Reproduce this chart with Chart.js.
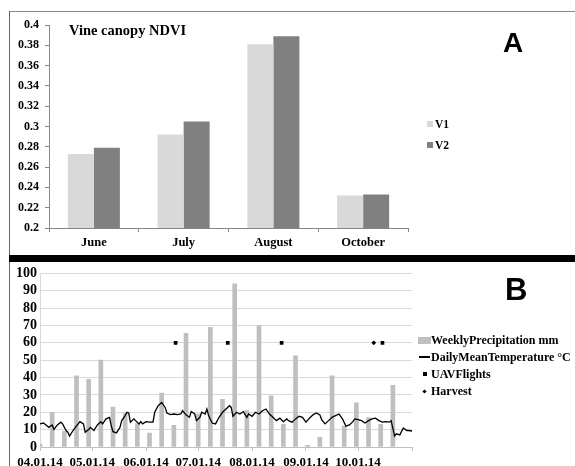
<!DOCTYPE html>
<html>
<head>
<meta charset="utf-8">
<title>Vine canopy NDVI and weather 2014</title>
<script src="https://cdn.jsdelivr.net/npm/chart.js@4"></script>
<style>
	html, body { margin: 0; padding: 0; background: #fff; }
	body { width: 575px; height: 466px; position: relative; overflow: hidden; font-family: "Liberation Serif", "Times New Roman", serif; }
	canvas { position: absolute; left: 0; }
	#chartA { top: 0; }
	#chartB { top: 262px; }
	.rule { position: absolute; }
	.letter { position: absolute; font-family: "Liberation Sans", Arial, sans-serif; font-weight: bold; line-height: 1; color: #000; }
	.title { position: absolute; left: 69px; top: 23px; font-size: 14.5px; font-weight: bold; line-height: 1; }
	.legend { position: absolute; font-weight: bold; color: #000; }
	.legend .item { display: flex; align-items: center; white-space: nowrap; }
	.legend .slot { display: flex; align-items: center; justify-content: center; }
</style>
</head>
<body>
<div class="rule" style="left:9px;top:11px;width:566px;height:1px;background:#8a8a8a"></div>
<div class="rule" style="left:9px;top:11px;width:1px;height:455px;background:#666"></div>
<div class="rule" style="left:9px;top:255px;width:566px;height:7px;background:#000"></div>

<canvas id="chartA" width="575" height="255"></canvas>
<canvas id="chartB" width="575" height="215"></canvas>

<div class="title">Vine canopy NDVI</div>
<div class="letter" style="left:503px;top:29px;font-size:28px">A</div>
<div class="letter" style="left:505px;top:274px;font-size:31px">B</div>
<div class="legend" id="legendA" style="left:424px;top:114px;font-size:11.5px;line-height:20.5px"></div>
<div class="legend" id="legendB" style="left:418px;top:331.5px;font-size:12px;line-height:17px"></div>

<script>
// panel A: NDVI per month
const ndviMonths = ["June", "July", "August", "October"];
const ndviV1 = [0.273, 0.292, 0.381, 0.232];
const ndviV2 = [0.279, 0.305, 0.389, 0.233];

// panel B: days counted from 1 April 2014
const monthStartDays = [0, 30, 61, 91, 122, 153, 183, 214];
const monthLabels = ["04.01.14", "05.01.14", "06.01.14", "07.01.14", "08.01.14", "09.01.14", "10.01.14", ""];

const precipDays = [0, 7, 14, 21, 28, 35, 42, 49, 56, 63, 70, 77, 84, 91, 98,
	105, 112, 119, 126, 133, 140, 147, 154, 161, 168, 175, 182, 189, 196, 203];
const precipMm = [1.5, 20, 9, 41, 39, 50, 23, 19.5, 13.5, 8, 31, 12.5, 65.5, 19, 69,
	27.5, 94, 21, 70, 29.5, 13, 52.5, 1, 5.5, 41, 12, 25.5, 17, 13, 35.5];

const tempDays = [0, 2, 4, 5, 7, 8, 10, 12, 13, 15, 16, 17, 19, 21, 23, 25, 26, 28, 29, 31,
	33, 35, 36, 38, 40, 41, 42, 44, 46, 47, 49, 50, 51, 52, 54, 55, 57, 58, 59, 61,
	63, 65, 66, 68, 70, 72, 73, 75, 77, 79, 81, 82, 84, 86, 87, 89, 90, 92, 93, 95,
	96, 97, 99, 101, 103, 105, 107, 109, 110, 111, 113, 115, 117, 119, 120, 122, 124, 126, 128, 130,
	132, 134, 136, 138, 140, 142, 143, 145, 147, 149, 151, 153, 155, 157, 159, 161, 162, 164, 166, 168,
	170, 172, 174, 176, 178, 180, 181, 183, 185, 187, 189, 191, 193, 195, 197, 199, 201, 202, 204, 205,
	207, 209, 211, 212, 214];
const tempC = [13.3, 13.8, 12.2, 11.3, 12.7, 10.1, 12.7, 14.3, 13.3, 9.5, 8.5, 6.3, 9.5, 12.2, 14.6, 13.3, 8.5, 10.1, 11.3, 9.5,
	12.7, 14.6, 13.3, 16.2, 17.1, 12.2, 8.8, 8.1, 11.3, 15.2, 18.1, 20, 19.6, 14.3, 16.2, 15.2, 13.3, 14.6, 13.3, 14.6,
	14.3, 14.3, 20, 23.8, 25.7, 22.8, 19.6, 18.7, 19, 18.7, 19, 20.9, 18.5, 17.1, 20.4, 19, 15.2, 17.1, 20, 19,
	21.9, 18.1, 13.8, 13.3, 17.1, 20, 21.9, 23.8, 22.8, 17.7, 20, 19, 20.4, 17.1, 19, 17.7, 20, 19, 20.9, 21.9,
	19, 17.1, 15.2, 16.6, 14.6, 16.2, 15.2, 14.3, 16.2, 17.7, 17.1, 14.3, 16.6, 18.5, 19.6, 18.5, 15.8, 13.3, 15.2, 17.1,
	18.1, 19, 16.2, 12, 12.7, 14.6, 16.2, 15.8, 15.2, 13.8, 15.2, 16.2, 16.6, 15.2, 14.3, 14.6, 14.3, 15.2, 6.3, 7.6,
	7, 10.9, 9.5, 9.5, 9.2];

const uavFlightDays = [78, 108, 139, 197];
const harvestDays = [192];
const markerLevel = 60;

const SERIF = '"Liberation Serif", "Times New Roman", serif';
const boldFont = (size) => ({ family: SERIF, weight: "bold", size: size });

const chartA = new Chart(document.getElementById("chartA"), {
	type: "bar",
	data: {
		labels: ndviMonths,
		datasets: [
			{ label: "V1", data: ndviV1, backgroundColor: "#d9d9d9", categoryPercentage: 0.58, barPercentage: 1 },
			{ label: "V2", data: ndviV2, backgroundColor: "#808080", categoryPercentage: 0.58, barPercentage: 1 },
		],
	},
	options: {
		responsive: false,
		animation: false,
		layout: { padding: { top: 25, right: 167, bottom: 0, left: 0 } },
		plugins: { legend: { display: false }, tooltip: { enabled: false } },
		scales: {
			x: {
				ticks: { font: boldFont(12.5), color: "#000", padding: 3 },
				grid: { drawOnChartArea: false, tickLength: 4, color: "#878787" },
				border: { color: "#878787" },
				afterFit: (scale) => { scale.height = 27; },
			},
			y: {
				min: 0.2,
				max: 0.4,
				ticks: {
					stepSize: 0.02,
					autoSkip: false,
					font: boldFont(12),
					color: "#000",
					padding: 6,
					callback: (v) => String(+v.toFixed(2)),
				},
				grid: { drawOnChartArea: false, tickLength: 4, color: "#878787" },
				border: { color: "#878787" },
				afterFit: (scale) => { scale.width = 49; },
			},
		},
	},
});

const chartB = new Chart(document.getElementById("chartB"), {
	data: {
		datasets: [
			{
				type: "bar",
				label: "WeeklyPrecipitation mm",
				data: precipDays.map((d, i) => ({ x: d, y: precipMm[i] })),
				backgroundColor: "#bfbfbf",
				barThickness: 4,
				order: 3,
			},
			{
				type: "line",
				label: "DailyMeanTemperature °C",
				data: tempDays.map((d, i) => ({ x: d, y: tempC[i] })),
				borderColor: "#000",
				borderWidth: 1.3,
				pointRadius: 0,
				tension: 0,
				order: 2,
			},
			{
				type: "scatter",
				label: "UAVFlights",
				data: uavFlightDays.map((d) => ({ x: d, y: markerLevel })),
				pointStyle: "rect",
				pointRadius: 2.6,
				backgroundColor: "#000",
				borderColor: "#000",
				borderWidth: 0,
				order: 1,
			},
			{
				type: "scatter",
				label: "Harvest",
				data: harvestDays.map((d) => ({ x: d, y: markerLevel })),
				pointStyle: "rectRot",
				pointRadius: 2.4,
				backgroundColor: "#000",
				borderColor: "#000",
				borderWidth: 0,
				order: 1,
			},
		],
	},
	options: {
		responsive: false,
		animation: false,
		layout: { padding: { top: 9, right: 163, bottom: 0, left: 0 } },
		plugins: { legend: { display: false }, tooltip: { enabled: false } },
		scales: {
			x: {
				type: "linear",
				min: 0,
				max: 214,
				offset: false,
				afterBuildTicks: (scale) => {
					scale.ticks = monthStartDays.map((v) => ({ value: v }));
				},
				ticks: {
					autoSkip: false,
					maxRotation: 0,
					font: boldFont(13),
					color: "#000",
					padding: 4,
					callback: (v, i) => monthLabels[i],
				},
				grid: { drawOnChartArea: false, offset: false, tickLength: 4, color: "#bfbfbf" },
				border: { color: "#bfbfbf" },
				afterFit: (scale) => { scale.height = 30; },
			},
			y: {
				min: 0,
				max: 100,
				ticks: { stepSize: 10, autoSkip: false, font: boldFont(14), color: "#000", padding: 3 },
				grid: { color: "#d9d9d9", drawTicks: false },
				border: { color: "#d9d9d9" },
				afterFit: (scale) => { scale.width = 40; },
			},
		},
	},
});

// html legends built from the datasets
function symbolFor(ds) {
	const s = document.createElement("span");
	s.style.display = "inline-block";
	if (ds.type === "bar") {
		s.style.width = "13px"; s.style.height = "7px"; s.style.background = ds.backgroundColor;
	} else if (ds.type === "line") {
		s.style.width = "11px"; s.style.height = "1.5px"; s.style.background = ds.borderColor;
	} else if (ds.pointStyle === "rectRot") {
		s.style.width = "3px"; s.style.height = "3px"; s.style.background = ds.backgroundColor;
		s.style.transform = "rotate(45deg)";
	} else {
		s.style.width = "4px"; s.style.height = "4px"; s.style.background = ds.backgroundColor;
	}
	return s;
}

function buildLegend(el, datasets, slotWidth, makeSymbol) {
	for (const ds of datasets) {
		const row = document.createElement("div");
		row.className = "item";
		const slot = document.createElement("span");
		slot.className = "slot";
		slot.style.width = slotWidth + "px";
		slot.appendChild(makeSymbol(ds));
		const text = document.createElement("span");
		text.textContent = ds.label;
		row.appendChild(slot);
		row.appendChild(text);
		el.appendChild(row);
	}
}

buildLegend(document.getElementById("legendA"), chartA.data.datasets, 11, (ds) => {
	const s = document.createElement("span");
	s.style.display = "inline-block";
	s.style.width = "6px";
	s.style.height = "6px";
	s.style.background = ds.backgroundColor;
	return s;
});
buildLegend(document.getElementById("legendB"), chartB.data.datasets, 13, symbolFor);
</script>
</body>
</html>
